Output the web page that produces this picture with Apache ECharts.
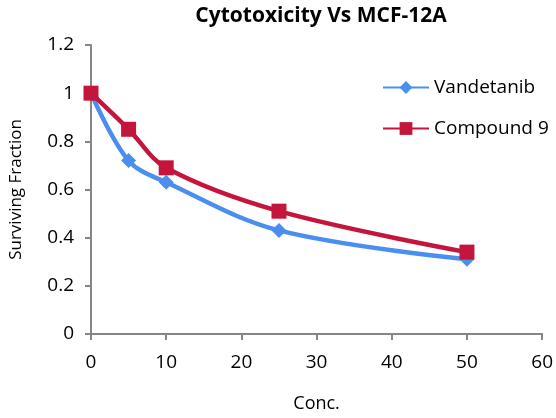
<!DOCTYPE html>
<html><head><meta charset="utf-8">
<script src="https://cdn.jsdelivr.net/npm/echarts@6/dist/echarts.min.js"></script>
<style>html,body{margin:0;padding:0;background:#fff}#c{width:556px;height:418px}</style>
</head><body><div id="c"></div>
<script>
const conc = [0, 5, 10, 25, 50];
const vandetanib = [1.0, 0.72, 0.63, 0.43, 0.31];
const compound9 = [1.0, 0.85, 0.69, 0.51, 0.34];
const font = '"Open Sans", "Liberation Sans", sans-serif';
const chart = echarts.init(document.getElementById('c'));
const pairs = (xs, ys) => xs.map((x, i) => [x, ys[i]]);
chart.setOption({
  animation: false,
  title: { text: 'Cytotoxicity Vs MCF-12A', left: 316, textAlign: 'center', top: 1,
    textStyle: { fontFamily: font, fontWeight: 'bold', fontSize: 21, color: '#000' } },
  legend: {
    orient: 'vertical', left: 377, top: 73, itemGap: 22, itemWidth: 46, itemHeight: 16,
    textStyle: { fontFamily: font, fontSize: 19, color: '#000' },
    data: ['Vandetanib', 'Compound 9']
  },
  grid: { left: 87, right: 11, top: 45, bottom: 79 },
  xAxis: {
    type: 'value', min: 0, max: 60, interval: 10,
    name: 'Conc.', nameLocation: 'middle', nameGap: 61,
    nameTextStyle: { fontFamily: font, fontSize: 18, color: '#000' },
    axisLine: { lineStyle: { color: '#868686', width: 2 } },
    axisTick: { show: true, length: 6, lineStyle: { color: '#868686', width: 2 } },
    axisLabel: { fontFamily: font, fontSize: 19, color: '#000', margin: 19 },
    splitLine: { show: false }
  },
  yAxis: {
    type: 'value', min: 0, max: 1.2, interval: 0.2,
    name: 'Surviving Fraction', nameLocation: 'middle', nameGap: 66,
    nameTextStyle: { fontFamily: font, fontSize: 17, color: '#000' },
    axisLine: { show: true, lineStyle: { color: '#868686', width: 2 } },
    axisTick: { show: true, length: 6, lineStyle: { color: '#868686', width: 2 } },
    axisLabel: { fontFamily: font, fontSize: 19, color: '#000', margin: 17,
      formatter: v => String(Math.round(v * 10) / 10) },
    splitLine: { show: false }
  },
  series: [
    { name: 'Vandetanib', type: 'line', smooth: 0.35, data: pairs(conc, vandetanib),
      symbol: 'diamond', symbolSize: 15, itemStyle: { color: '#4a8ff0' },
      lineStyle: { color: '#4a8ff0', width: 4.5 } },
    { name: 'Compound 9', type: 'line', smooth: 0.35, data: pairs(conc, compound9),
      symbol: 'rect', symbolSize: 15, itemStyle: { color: '#c4163c' },
      lineStyle: { color: '#c4163c', width: 4.5 } }
  ]
});
</script></body></html>
